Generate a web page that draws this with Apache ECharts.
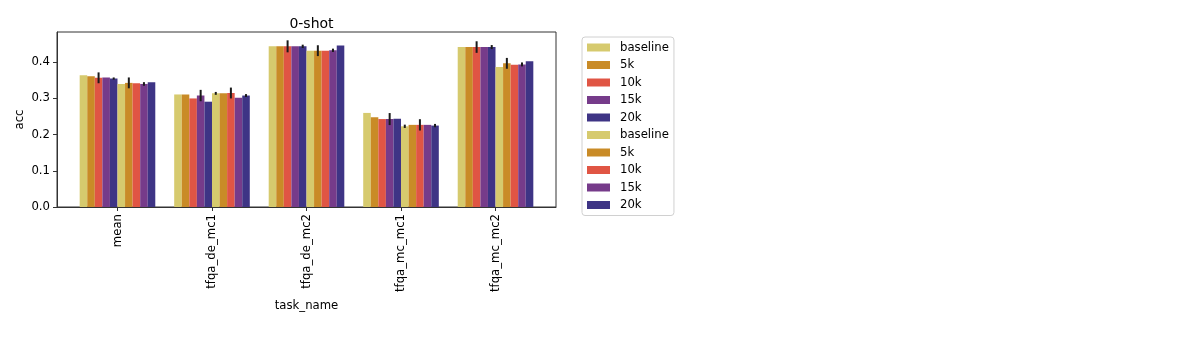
<!DOCTYPE html>
<html>
<head>
<meta charset="utf-8">
<script src="https://cdn.jsdelivr.net/npm/echarts@6/dist/echarts.min.js"></script>
<style>
  html, body { margin: 0; padding: 0; background: #fff; }
  #chart { width: 1196px; height: 345px; }
</style>
</head>
<body>
<div id="chart"></div>
<script>
// categories on the x axis
var categories = ['mean', 'tfqa_de_mc1', 'tfqa_de_mc2', 'tfqa_mc_mc1', 'tfqa_mc_mc2'];
var seriesNames = ['baseline', '5k', '10k', '15k', '20k', 'baseline', '5k', '10k', '15k', '20k'];
var yTicks = [0, 0.1, 0.2, 0.3, 0.4];

// acc per series, one value per category
var baselineA = [0.364, 0.311, 0.444, 0.260, 0.442];
var k5A       = [0.361, 0.311, 0.444, 0.248, 0.442];
var k10A      = [0.357, 0.300, 0.444, 0.243, 0.442];
var k15A      = [0.358, 0.308, 0.444, 0.243, 0.442];
var k20A      = [0.355, 0.291, 0.444, 0.244, 0.442];
var baselineB = [0.340, 0.314, 0.432, 0.223, 0.387];
var k5B       = [0.343, 0.314, 0.432, 0.227, 0.397];
var k10B      = [0.342, 0.315, 0.432, 0.227, 0.393];
var k15B      = [0.340, 0.302, 0.433, 0.227, 0.394];
var k20B      = [0.345, 0.308, 0.446, 0.225, 0.403];

// half length of the error bars (0 = none)
var baselineAErr = [0, 0, 0, 0, 0];
var k5AErr       = [0, 0, 0, 0, 0];
var k10AErr      = [0.015, 0, 0.0166, 0, 0.016];
var k15AErr      = [0, 0.0157, 0, 0.0166, 0];
var k20AErr      = [0.003, 0, 0.0046, 0, 0.0055];
var baselineBErr = [0, 0.004, 0, 0.0046, 0];
var k5BErr       = [0.015, 0, 0.015, 0, 0.015];
var k10BErr      = [0, 0.015, 0, 0.0156, 0];
var k15BErr      = [0.005, 0, 0.0046, 0, 0.0055];
var k20BErr      = [0, 0.004, 0, 0.0046, 0];

var values = [baselineA, k5A, k10A, k15A, k20A, baselineB, k5B, k10B, k15B, k20B];
var errors = [baselineAErr, k5AErr, k10AErr, k15AErr, k20AErr, baselineBErr, k5BErr, k10BErr, k15BErr, k20BErr];
var colors = ['#d6ca6e', '#c98b27', '#e05544', '#763b8a', '#3e3485',
              '#d6ca6e', '#c98b27', '#e05544', '#763b8a', '#3e3485'];

var FONT = 'DejaVu Sans';
var BAR_W = 0.08;

function makeRender(j) {
  var offset = -0.4 + BAR_W * (j + 0.5);
  return function (params, api) {
    var x = api.value(0) + offset;
    var v = api.value(1);
    var e = api.value(2);
    var p0 = api.coord([x - BAR_W / 2, v]);
    var p1 = api.coord([x + BAR_W / 2, 0]);
    var children = [{
      type: 'rect',
      shape: { x: p0[0], y: p0[1], width: p1[0] - p0[0], height: p1[1] - p0[1] },
      style: { fill: colors[j] }
    }];
    if (e > 0) {
      var t = api.coord([x, v + e]);
      var b = api.coord([x, v - e]);
      children.push({
        type: 'line',
        shape: { x1: t[0], y1: t[1], x2: b[0], y2: b[1] },
        style: { stroke: '#1a1a1a', lineWidth: 2 }
      });
    }
    return { type: 'group', children: children };
  };
}

var series = [];
for (var j = 0; j < seriesNames.length; j++) {
  var data = [];
  for (var i = 0; i < categories.length; i++) {
    data.push([i, values[j][i], errors[j][i]]);
  }
  series.push({
    name: seriesNames[j] + '#' + j,
    type: 'custom',
    renderItem: makeRender(j),
    encode: { x: 0, y: 1 },
    itemStyle: { color: colors[j] },
    data: data
  });
}

var chart = echarts.init(document.getElementById('chart'), null, { renderer: 'canvas' });
chart.setOption({
  animation: false,
  title: {
    text: '0-shot',
    left: 306.5,
    textAlign: 'center',
    top: 12,
    textStyle: { fontFamily: FONT, fontSize: 14, fontWeight: 'normal', color: '#000' }
  },
  grid: {
    left: 57, top: 32, right: 640, bottom: 138,
    show: true, borderColor: '#333', borderWidth: 1
  },
  legend: {
    orient: 'vertical',
    left: 582,
    top: 37,
    padding: [4, 5, 4, 5],
    itemWidth: 23,
    itemHeight: 8,
    itemGap: 4.5,
    icon: 'rect',
    borderColor: '#d0d0d0',
    borderWidth: 1,
    borderRadius: 3,
    data: series.map(function (s) { return s.name; }),
    formatter: function (name) { return name.split('#')[0]; },
    textStyle: { fontFamily: FONT, fontSize: 11.7, color: '#000', lineHeight: 13, padding: [0, 0, 0, 5] },
    selectedMode: false
  },
  xAxis: {
    type: 'value',
    min: -0.64,
    max: 4.64,
    name: 'task_name',
    nameLocation: 'middle',
    nameGap: 90,
    nameTextStyle: { fontFamily: FONT, fontSize: 11.7, color: '#000' },
    splitLine: { show: false },
    axisLine: { show: true, onZero: false, lineStyle: { color: '#333', width: 1 } },
    axisTick: { show: true, length: 4, customValues: [0, 1, 2, 3, 4], lineStyle: { color: '#333' } },
    axisLabel: {
      customValues: [0, 1, 2, 3, 4],
      rotate: 90,
      margin: 7,
      fontFamily: FONT, fontSize: 11.7, color: '#000',
      formatter: function (v) { return categories[Math.round(v)]; }
    }
  },
  yAxis: {
    type: 'value',
    min: 0,
    max: 0.4836,
    name: 'acc',
    nameLocation: 'middle',
    nameGap: 31,
    nameTextStyle: { fontFamily: FONT, fontSize: 11.7, color: '#000' },
    splitLine: { show: false },
    axisLine: { show: true, onZero: false, lineStyle: { color: '#333', width: 1 } },
    axisTick: { show: true, length: 4, customValues: yTicks, lineStyle: { color: '#333' } },
    axisLabel: {
      customValues: yTicks,
      margin: 7,
      fontFamily: FONT, fontSize: 11.7, color: '#000',
      formatter: function (v) { return v.toFixed(1); }
    }
  },
  series: series
});
</script>
</body>
</html>
